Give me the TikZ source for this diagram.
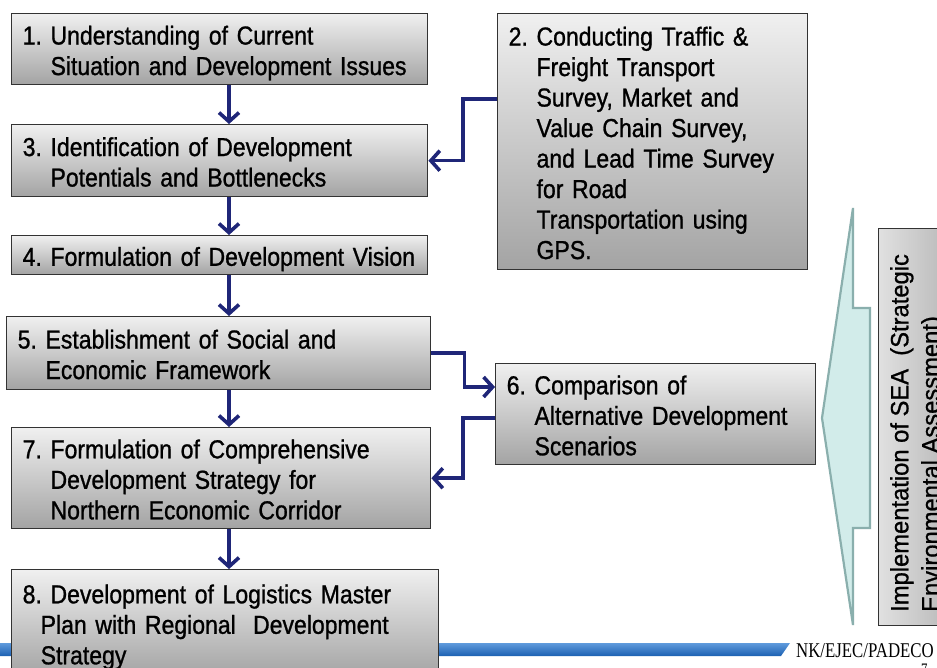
\documentclass[tikz,border=0pt]{standalone}
\usepackage{fontspec}
\setmainfont{Liberation Sans}[FakeStretch=0.885,FakeBold=1.0]
\newfontfamily\seafont{Liberation Sans}[FakeStretch=0.95,FakeBold=0.8]
\newfontfamily\nkfont{Liberation Serif}[FakeStretch=0.8]
\usetikzlibrary{arrows.meta}
\definecolor{navy}{RGB}{31,38,120}
\definecolor{seafill}{RGB}{210,236,234}
\definecolor{seaedge}{RGB}{138,175,173}
\definecolor{bartop}{RGB}{95,155,220}
\definecolor{barbot}{RGB}{28,96,178}
\newcommand\bx[1]{\noindent\raisebox{-4.5pt}[\height][\depth]{\begin{tabular}{@{}l@{\ }l@{}}#1\end{tabular}}}
\newcommand\bxone[1]{\noindent\raisebox{-4.5pt}[\height][\depth]{\begin{tabular}{@{}l@{}}#1\end{tabular}}}
\tikzset{
  stepbox/.style={draw=black!80, line width=1.4pt, top color=black!6, bottom color=black!36,
    anchor=north west, inner xsep=11pt, inner ysep=0pt,
    font=\fontsize{26}{30.5}\selectfont},
  conn/.style={draw=navy, line width=3.6pt, -{Straight Barb[length=9pt,width=20pt]}},
  seabox/.style={draw=black!80, line width=1.4pt, left color=black!12, right color=black!30, anchor=north west, inner sep=0pt},
}
\begin{document}
\begin{tikzpicture}[x=1pt,y=-1pt]
\useasboundingbox (0,0) rectangle (937,668);
\fill[white] (0,0) rectangle (937,668);

% footer bar
\shade[top color=bartop, bottom color=barbot] (0,643) -- (790,643) -- (781,656) -- (0,656) -- cycle;
\node[font=\nkfont\fontsize{21}{21}\selectfont, anchor=base west, inner sep=0pt] (nk) at (796,657) {NK/EJEC/PADECO};
\node[font=\nkfont\fontsize{16}{16}\selectfont, anchor=north west, inner sep=0pt] (pg) at (921,664) {7};

% boxes
\node[stepbox, minimum height=71, text width=394] (box1) at (11,13)
  {\bx{1. & Understanding of Current\\ & Situation and Development Issues}};
\node[stepbox, minimum height=256, text width=288] (box2) at (497,13)
  {\bx{2. & Conducting Traffic \&\\ & Freight Transport\\ & Survey, Market and\\ & Value Chain Survey,\\ & and Lead Time Survey\\ & for Road\\ & Transportation using\\ & GPS.}};
\node[stepbox, minimum height=72, text width=394] (box3) at (11,124)
  {\bx{3. & Identification of Development\\ & Potentials and Bottlenecks}};
\node[stepbox, minimum height=39, text width=394] (box4) at (11,235)
  {\bx{4. & Formulation of Development Vision}};
\node[stepbox, minimum height=73, text width=402] (box5) at (6,316)
  {\bx{5. & Establishment of Social and\\ & Economic Framework}};
\node[stepbox, minimum height=101, text width=298] (box6) at (495,363)
  {\bx{6. & Comparison of\\ & Alternative Development\\ & Scenarios}};
\node[stepbox, minimum height=101, text width=397] (box7) at (11,427)
  {\bx{7. & Formulation of Comprehensive\\ & Development Strategy for\\ & Northern Economic Corridor}};
\node[stepbox, minimum height=107, text width=405] (box8) at (11,569)
  {\bxone{8.\ Development of Logistics Master\\ \hspace*{18pt}Plan with Regional\ \ Development\\ \hspace*{18pt}Strategy}};

% connectors
\coordinate (ax) at (229,0);
\draw[conn] (box1.south -| ax) -- (box3.north -| ax);
\draw[conn] (box3.south -| ax) -- (box4.north -| ax);
\draw[conn] (box4.south -| ax) -- (box5.north -| ax);
\draw[conn] (box5.south -| ax) -- (box7.north -| ax);
\draw[conn] (box7.south -| ax) -- (box8.north -| ax);
\draw[conn] ([yshift=-86pt]box2.north west) -- ++(-34,0) |- (box3.east);
\draw[conn] (box5.east) -- ++(33,0) |- ([yshift=-24pt]box6.north west);
\draw[conn] ([yshift=-55pt]box6.north west) -- ++(-32,0) |- (box7.east);

% SEA chevron arrow
\draw[fill=seafill, draw=seaedge, line width=2.2pt, line join=miter]
  (853,208) -- (822,418) -- (853,625) -- (853,528) -- (870,528) -- (870,308) -- (853,308) -- cycle;

% SEA box
\node[seabox, minimum width=82, minimum height=397] (sea) at (878,228) {};
\node[font=\seafont\fontsize{25}{31}\selectfont, rotate=90, anchor=north west, inner sep=0pt, align=left] (seatxt) at (890,612)
  {Implementation of SEA\ \ (Strategic\\Environmental Assessment)};
\end{tikzpicture}
\end{document}
